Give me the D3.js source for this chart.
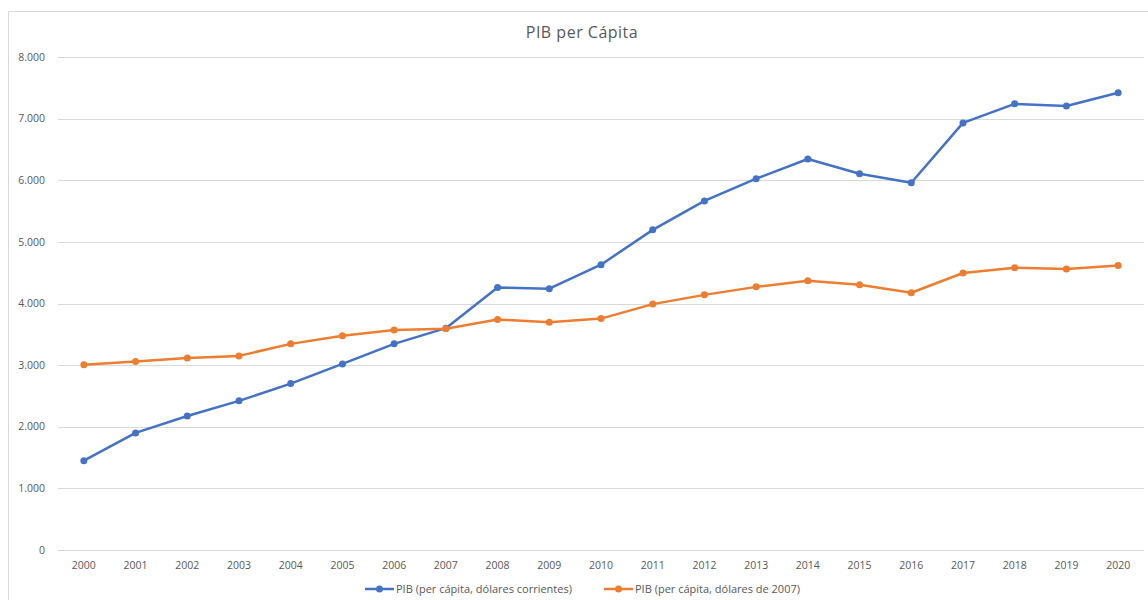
<!DOCTYPE html>
<html>
<head>
<meta charset="utf-8">
<script src="https://cdn.jsdelivr.net/npm/d3@7"></script>
<style>
  body { margin: 0; background: #fff; }
  svg { font-family: "Open Sans", "Noto Sans", sans-serif; }
</style>
</head>
<body>
<div id="chart"></div>
<script>
// data
const years = ['2000','2001','2002','2003','2004','2005','2006','2007','2008','2009','2010',
               '2011','2012','2013','2014','2015','2016','2017','2018','2019','2020'];
const corrientes = [1450, 1900, 2175, 2420, 2700, 3020, 3345, 3600, 4260, 4240, 4630,
                    5195, 5665, 6025, 6345, 6105, 5960, 6930, 7240, 7205, 7420];
const constantes2007 = [3005, 3060, 3115, 3150, 3345, 3475, 3570, 3590, 3740, 3695, 3755,
                        3990, 4140, 4270, 4370, 4305, 4175, 4495, 4580, 4560, 4615];
const yTicks = [0, 1000, 2000, 3000, 4000, 5000, 6000, 7000, 8000];

const series = [
  { name: 'PIB (per cápita, dólares corrientes)', values: corrientes, color: '#4472C4' },
  { name: 'PIB (per cápita, dólares de 2007)', values: constantes2007, color: '#ED7D31' }
];

const width = 1148, height = 600;
const margin = { top: 57, right: 4, bottom: 50, left: 58 };

const svg = d3.select('#chart').append('svg')
  .attr('width', width)
  .attr('height', height);

// chart frame
svg.append('rect')
  .attr('x', 8.5).attr('y', 11.5)
  .attr('width', width - 8).attr('height', height - 10)
  .attr('fill', 'none').attr('stroke', '#d9d9d9');

const x = d3.scaleBand()
  .domain(years)
  .range([margin.left, width - margin.right]);

const y = d3.scaleLinear()
  .domain([0, 8000])
  .range([height - margin.bottom, margin.top]);

const fmt = d => d3.format(',')(d).replace(/,/g, '.');

// gridlines
svg.append('g')
  .selectAll('line')
  .data(yTicks)
  .join('line')
  .attr('x1', margin.left).attr('x2', width - margin.right)
  .attr('y1', d => Math.round(y(d)) + 0.5).attr('y2', d => Math.round(y(d)) + 0.5)
  .attr('stroke', '#d9d9d9').attr('stroke-width', 1);

// y labels
svg.append('g')
  .selectAll('text')
  .data(yTicks)
  .join('text')
  .attr('x', 45)
  .attr('y', d => y(d))
  .attr('dy', '0.35em')
  .attr('text-anchor', 'end')
  .attr('font-size', 10.5)
  .attr('fill', '#595959')
  .text(fmt);

// x labels
svg.append('g')
  .selectAll('text')
  .data(years)
  .join('text')
  .attr('x', d => x(d) + x.bandwidth() / 2)
  .attr('y', 569)
  .attr('text-anchor', 'middle')
  .attr('font-size', 10.5)
  .attr('fill', '#595959')
  .text(d => d);

// title
svg.append('text')
  .attr('x', 582).attr('y', 38)
  .attr('text-anchor', 'middle')
  .attr('font-size', 16)
  .attr('letter-spacing', 0.5)
  .attr('fill', '#595959')
  .text('PIB per Cápita');

const line = d3.line()
  .x((d, i) => x(years[i]) + x.bandwidth() / 2)
  .y(d => y(d));

series.forEach(s => {
  svg.append('path')
    .datum(s.values)
    .attr('fill', 'none')
    .attr('stroke', s.color)
    .attr('stroke-width', 2.5)
    .attr('stroke-linejoin', 'round')
    .attr('d', line);

  svg.append('g')
    .selectAll('circle')
    .data(s.values)
    .join('circle')
    .attr('cx', (d, i) => x(years[i]) + x.bandwidth() / 2)
    .attr('cy', d => y(d))
    .attr('r', 3.5)
    .attr('fill', s.color);
});

// legend
const legendX = [365, 604];
const legend = svg.append('g')
  .selectAll('g')
  .data(series)
  .join('g')
  .attr('transform', (d, i) => `translate(${legendX[i]},589)`);

legend.append('line')
  .attr('x1', 0).attr('x2', 29)
  .attr('stroke', d => d.color).attr('stroke-width', 2.5);
legend.append('circle')
  .attr('cx', 14.5).attr('r', 3.5)
  .attr('fill', d => d.color);
legend.append('text')
  .attr('x', 31).attr('dy', '0.35em')
  .attr('font-size', 11)
  .attr('fill', '#595959')
  .text(d => d.name);
</script>
</body>
</html>
